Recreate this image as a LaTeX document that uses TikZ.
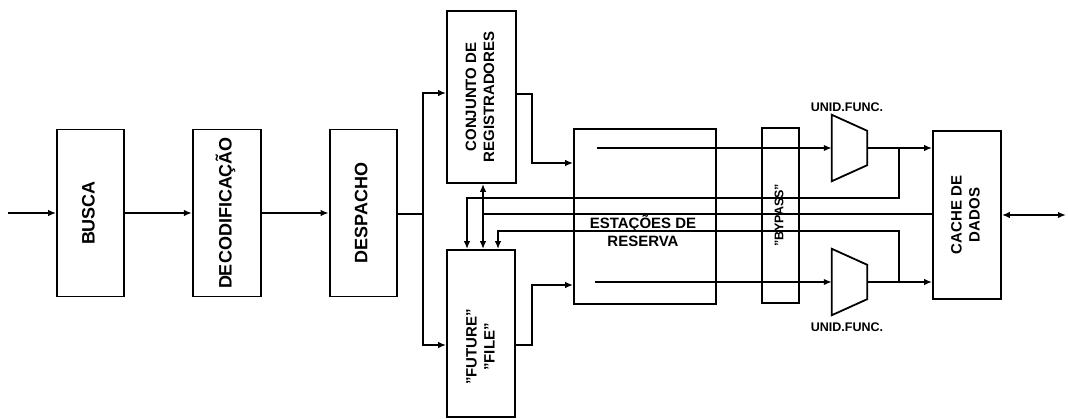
\documentclass[tikz,border=0pt]{standalone}
\usepackage{fontspec}
\setmainfont{Liberation Sans}
\usepackage{graphicx}
\usetikzlibrary{positioning,arrows.meta}

\newcommand{\vtext}[1]{\rotatebox{90}{\begin{tabular}{@{}c@{}}#1\end{tabular}}}

\begin{document}
\begin{tikzpicture}[
    x=1pt, y=-1pt,
    node distance=67pt,
    box/.style={rectangle, draw=black, line width=1.8pt, inner sep=0pt, text centered},
    big/.style={font=\bfseries\fontsize{18}{21}\selectfont},
    mid/.style={font=\bfseries\fontsize{15}{18}\selectfont},
    small/.style={font=\bfseries\fontsize{12.5}{14}\selectfont},
    fu/.style={rectangle, inner sep=0pt, minimum width=35pt, minimum height=66pt},
    wire/.style={line width=1.6pt},
    arrow/.style={line width=1.6pt, -{Latex[length=8pt,width=6.5pt]}},
    dblarrow/.style={line width=1.6pt, {Latex[length=8pt,width=6.5pt]}-{Latex[length=8pt,width=6.5pt]}}
]

\useasboundingbox (0,0) rectangle (1068,419);

% Pipeline
\node (busca) [box, big, minimum width=67pt, minimum height=167pt] at (90.5,213) {\vtext{BUSCA}};

\node (decod) [box, big, minimum width=68pt, minimum height=167pt, right=of busca] {\vtext{DECODIFICAÇÃO}};

\node (despacho) [box, big, minimum width=67pt, minimum height=167pt, right=of decod] {\vtext{DESPACHO}};

% Register files
\node (conj) [box, mid, minimum width=69pt, minimum height=172pt] at (481.5,97) {\vtext{CONJUNTO DE\\REGISTRADORES}};

\node (future) [box, minimum width=68pt, minimum height=167pt] at (481,333.5) {};
\node (futuretxt) [mid] at (482,347) {\vtext{"FUTURE"\\"FILE"}};

% Reservation stations, bypass, units, cache
\node (estacoes) [box, minimum width=142pt, minimum height=175pt] at (645,216.5) {};
\node (estlbl) [mid, align=center] at (643,231) {ESTAÇÕES DE\\RESERVA};

\node (bypass) [box, small, minimum width=37pt, minimum height=175pt] at (780.5,215.5) {\vtext{"BYPASS"}};

\node (fu1) [fu] at (849.5,148) {};
\node (fu2) [fu] at (849.5,282) {};
\foreach \u in {fu1,fu2}
  \draw [line width=1.8pt, line join=miter] (\u.north west) -- ([yshift=-16pt]\u.north east)
    -- ([yshift=16pt]\u.south east) -- (\u.south west) -- cycle;
\node (fu1lbl) [small] at (847,107) {UNID.FUNC.};
\node (fu2lbl) [small] at (847,327) {UNID.FUNC.};

\node (cache) [box, mid, minimum width=68pt, minimum height=168pt] at (967,215) {\vtext{CACHE DE\\DADOS}};

% Free ends and bus rows
\coordinate (entrada) at (8,213);
\coordinate (memoria) at (1066,215);
\coordinate (split) at (423,214);
\coordinate (rs1) at (597,148);
\coordinate (rs2) at (595,282);
\coordinate (busA) at (0,198);
\coordinate (busB) at (0,214);
\coordinate (busC) at (0,231);

% Flow arrows
\draw [arrow] (entrada) -- (busca);
\draw [arrow] (busca) -- (decod);
\draw [arrow] (decod) -- (despacho);
\draw [wire] (despacho.east |- split) -- (split);
\draw [arrow] (split) |- ([yshift=4pt]conj.west);
\draw [arrow] (split) |- ([yshift=-11.5pt]future.west);

\draw [arrow] ([yshift=3pt]conj.east) -- ++(15,0) |- ([yshift=53.5pt]estacoes.west);
\draw [arrow] ([yshift=-11.5pt]future.east) -- ++(16,0) |- ([yshift=-68.5pt]estacoes.west);
\draw [dblarrow] ([xshift=1.5pt]conj.south) -- ([xshift=1.5pt]conj.south |- future.north);

% Functional units
\draw [arrow] (rs1) -- (fu1.west);
\draw [arrow] (rs2) -- (fu2.west);
\draw [arrow] (fu1.east) -- (fu1.east -| cache.west);
\draw [arrow] (fu2.east) -- (fu2.east -| cache.west);

% Result buses back to the future file
\draw [arrow] ([xshift=32pt]fu1.east) |- ([xshift=-14pt]future.north |- busA) -- ([xshift=-14pt]future.north);
\draw [wire] (cache.west |- busB) -- ([xshift=1.5pt]conj.south |- busB);
\draw [arrow] ([xshift=32pt]fu2.east) |- ([xshift=17pt]future.north |- busC) -- ([xshift=17pt]future.north);

\draw [dblarrow] (cache.east) -- (memoria);

\end{tikzpicture}
\end{document}
